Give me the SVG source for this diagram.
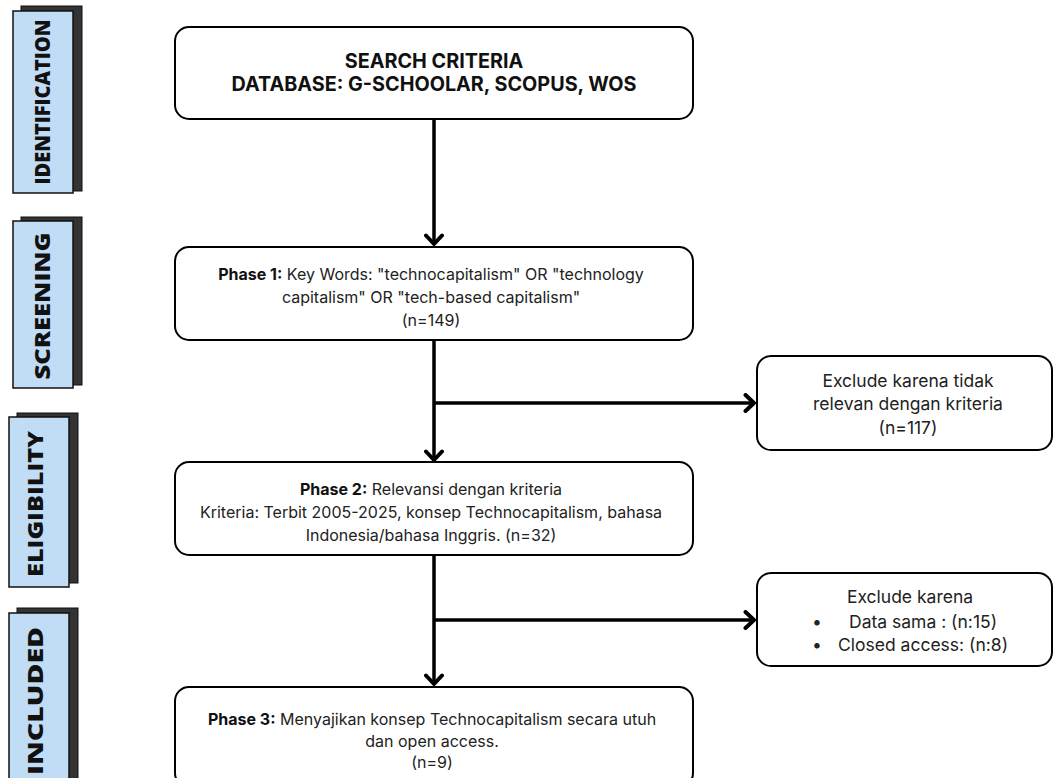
<svg xmlns="http://www.w3.org/2000/svg" width="1054" height="778" viewBox="0 0 1054 778">
<style>
.bg{fill:#ffffff}
.box{fill:#ffffff;stroke:#000;stroke-width:2}
.tab{fill:#c1dcf5;stroke:#111;stroke-width:1.5}
.shadow{fill:#333333;stroke:#111;stroke-width:1}
.tabtxt{font-family:"Open Sans","DejaVu Sans",sans-serif;font-weight:800;font-size:21px;fill:#111;text-anchor:middle}
.title{font-family:Inter,"Liberation Sans",sans-serif;font-weight:700;font-size:19.8px;fill:#111;text-anchor:middle}
.t{font-family:Inter,"Liberation Sans",sans-serif;font-size:16px;fill:#222;text-anchor:middle}
.r{font-family:Inter,"Liberation Sans",sans-serif;font-size:17.5px;fill:#222}
.rc{text-anchor:middle}
.b{font-weight:700;fill:#111}
.line{stroke:#000;stroke-width:3.5;fill:none}
</style>
<defs>
<marker id="arr" viewBox="-12 -10 14 20" refX="0" refY="0" markerWidth="14" markerHeight="20" markerUnits="userSpaceOnUse" orient="auto">
<path d="M-8.5,-8 L0,0 L-8.5,8" fill="none" stroke="#000" stroke-width="4" stroke-linecap="round" stroke-linejoin="round"/>
</marker>
</defs>
<rect class="bg" x="0" y="0" width="1054" height="778"/>

<g id="tab-identification">
<rect class="shadow" x="21" y="6" width="61" height="185"/>
<rect class="tab" x="13" y="11" width="60" height="182"/>
<text class="tabtxt" transform="translate(50,102) rotate(-90)" textLength="165" lengthAdjust="spacingAndGlyphs">IDENTIFICATION</text>
</g>
<g id="tab-screening">
<rect class="shadow" x="21" y="217" width="61" height="168"/>
<rect class="tab" x="13" y="221" width="60" height="167"/>
<text class="tabtxt" transform="translate(50,306) rotate(-90)" textLength="147" lengthAdjust="spacingAndGlyphs">SCREENING</text>
</g>
<g id="tab-eligibility">
<rect class="shadow" x="17" y="413" width="61" height="170"/>
<rect class="tab" x="9" y="417" width="60" height="170"/>
<text class="tabtxt" transform="translate(43,504) rotate(-90)" textLength="146" lengthAdjust="spacingAndGlyphs">ELIGIBILITY</text>
</g>
<g id="tab-included">
<rect class="shadow" x="17" y="608" width="61" height="175"/>
<rect class="tab" x="9" y="613" width="60" height="170"/>
<text class="tabtxt" transform="translate(43,701) rotate(-90)" textLength="148" lengthAdjust="spacingAndGlyphs">INCLUDED</text>
</g>

<g id="connectors">
<line class="line" x1="434" y1="120" x2="434" y2="244" marker-end="url(#arr)"/>
<line class="line" x1="434" y1="341" x2="434" y2="460" marker-end="url(#arr)"/>
<line class="line" x1="434" y1="403" x2="754" y2="403" marker-end="url(#arr)"/>
<line class="line" x1="434" y1="556" x2="434" y2="684" marker-end="url(#arr)"/>
<line class="line" x1="434" y1="620" x2="754" y2="620" marker-end="url(#arr)"/>
</g>

<g id="search-criteria">
<rect class="box" x="175" y="27" width="518" height="92" rx="14"/>
<text class="title" x="434" y="68">SEARCH CRITERIA</text>
<text class="title" x="434" y="91">DATABASE: G-SCHOOLAR, SCOPUS, WOS</text>
</g>

<g id="phase1">
<rect class="box" x="175" y="247" width="518" height="93" rx="14"/>
<text class="t" x="431" y="280"><tspan class="b">Phase 1:</tspan> Key Words: "technocapitalism" OR "technology</text>
<text class="t" x="431" y="303">capitalism" OR "tech-based capitalism"</text>
<text class="t" x="431" y="326">(n=149)</text>
</g>

<g id="exclude1">
<rect class="box" x="757" y="356" width="295" height="94" rx="14"/>
<text class="r rc" x="908" y="387">Exclude karena tidak</text>
<text class="r rc" x="908" y="410">relevan dengan kriteria</text>
<text class="r rc" x="908" y="434">(n=117)</text>
</g>

<g id="phase2">
<rect class="box" x="175" y="462" width="518" height="93" rx="14"/>
<text class="t" x="431" y="495"><tspan class="b">Phase 2:</tspan> Relevansi dengan kriteria</text>
<text class="t" x="431" y="518">Kriteria: Terbit 2005-2025, konsep Technocapitalism, bahasa</text>
<text class="t" x="431" y="541">Indonesia/bahasa Inggris. (n=32)</text>
</g>

<g id="exclude2">
<rect class="box" x="757" y="573" width="295" height="93" rx="14"/>
<text class="r rc" x="910" y="603">Exclude karena</text>
<text class="r" x="812" y="628">•</text>
<text class="r" x="849" y="628">Data sama : (n:15)</text>
<text class="r" x="812" y="651">•</text>
<text class="r" x="838" y="651">Closed access: (n:8)</text>
</g>

<g id="phase3">
<rect class="box" x="175" y="687" width="518" height="100" rx="14"/>
<text class="t" x="432" y="725"><tspan class="b">Phase 3:</tspan> Menyajikan konsep Technocapitalism secara utuh</text>
<text class="t" x="432" y="747">dan open access.</text>
<text class="t" x="432" y="768">(n=9)</text>
</g>
</svg>
